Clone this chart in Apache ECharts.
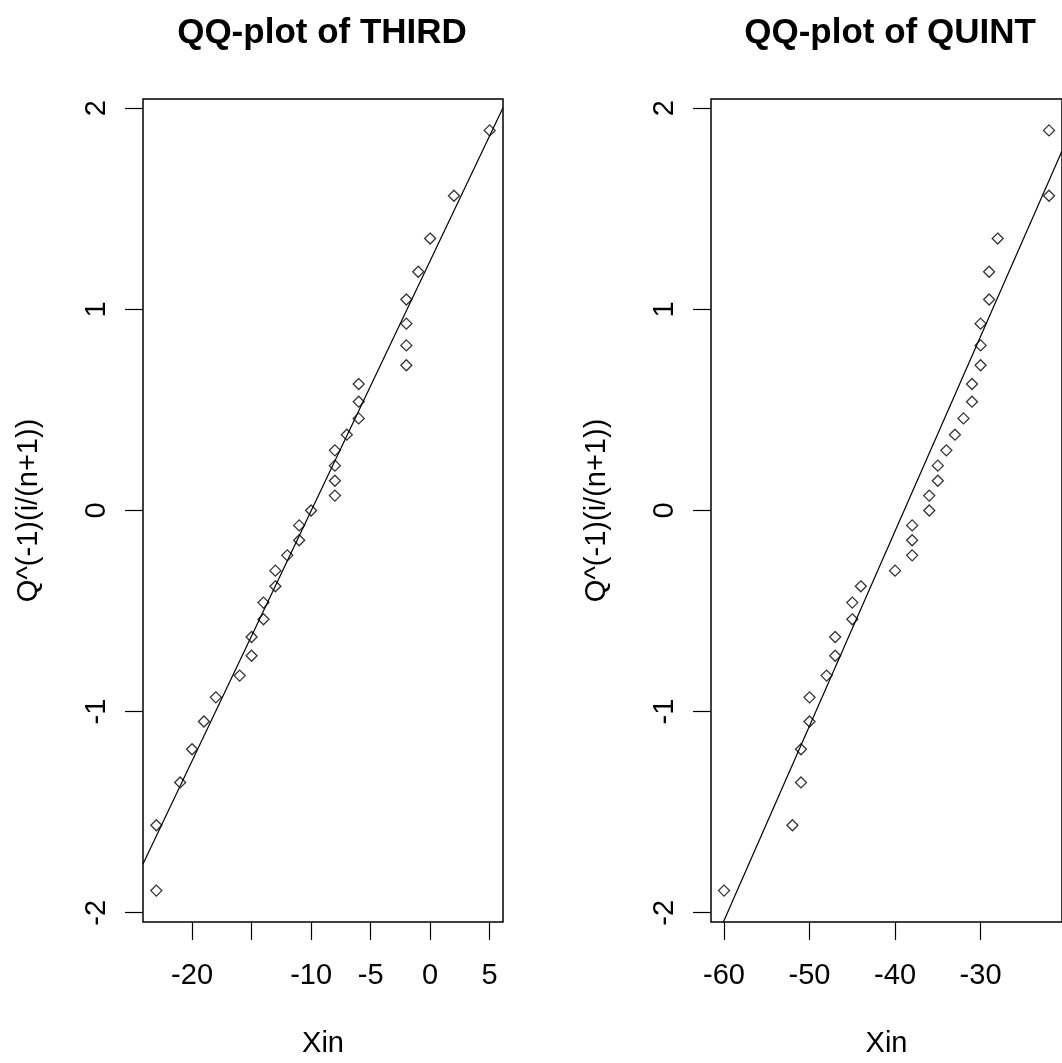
<!doctype html>
<html>
<head>
<meta charset="UTF-8">
<title>QQ-plot</title>
<script src="https://cdn.jsdelivr.net/npm/echarts@6/dist/echarts.min.js"></script>
<style>
    html, body { margin: 0; padding: 0; background: #fff; }
    #main { width: 1062px; height: 1063px; }
</style>
</head>
<body>
<div id="main"></div>
<script>
    // Q^(-1)(i/(n+1)) values, same for both panels (y axis)
    var normQ = [-1.890, -1.565, -1.352, -1.187, -1.049, -0.929, -0.821, -0.722, -0.629, -0.541, -0.458,
                 -0.377, -0.299, -0.223, -0.148, -0.074, 0, 0.074, 0.148, 0.223, 0.299, 0.377,
                 0.458, 0.541, 0.629, 0.722, 0.821, 0.929, 1.049, 1.187, 1.352, 1.565, 1.890];
    // sorted Xin of THIRD
    var thirdX = [-23, -23, -21, -20, -19, -18, -16, -15, -15, -14, -14,
                  -13, -13, -12, -11, -11, -10, -8, -8, -8, -8, -7,
                  -6, -6, -6, -2, -2, -2, -2, -1, 0, 2, 5];
    // sorted Xin of QUINT
    var quintX = [-60, -52, -51, -51, -50, -50, -48, -47, -47, -45, -45,
                  -44, -40, -38, -38, -38, -36, -36, -35, -35, -34, -33,
                  -32, -31, -31, -30, -30, -30, -29, -29, -28, -22, -22];
    // reference lines (two end points each)
    var thirdLineX = [-24.12, 6.12];
    var thirdLineY = [-1.758, 2.002];
    var quintLineX = [-61.52, -20.48];
    var quintLineY = [-2.186, 1.787];
    // ticks and labels
    var thirdTicks = [-20, -15, -10, -5, 0, 5];
    var thirdLabels = [-20, -10, -5, 0, 5];
    var quintTicks = [-60, -50, -40, -30];
    var yTicks = [-2, -1, 0, 1, 2];

    var FONT = 'Liberation Sans, Arial, sans-serif';

    function pairs(xs, ys) {
        var out = [];
        for (var i = 0; i < xs.length; i++) out.push([xs[i], ys[i]]);
        return out;
    }

    function xAxisOpt(idx, min, max, ticks, labels) {
        return {
            type: 'value', gridIndex: idx, min: min, max: max, position: 'bottom',
            name: 'Xin', nameLocation: 'middle', nameGap: 107,
            nameTextStyle: { fontFamily: FONT, fontSize: 29, color: '#000' },
            axisLine: { show: false, onZero: false },
            axisTick: { show: true, inside: false, length: 18, customValues: ticks,
                        lineStyle: { color: '#000', width: 1.2 } },
            axisLabel: { customValues: labels, margin: 39, fontFamily: FONT, fontSize: 29, color: '#000' },
            splitLine: { show: false }
        };
    }

    function yAxisOpt(idx) {
        return {
            type: 'value', gridIndex: idx, min: -2.046, max: 2.046, position: 'left',
            name: 'Q^(-1)(i/(n+1))', nameLocation: 'middle', nameGap: 100, nameRotate: 90,
            nameTextStyle: { fontFamily: FONT, fontSize: 29, color: '#000' },
            axisLine: { show: false, onZero: false },
            axisTick: { show: true, inside: false, length: 18, customValues: yTicks,
                        lineStyle: { color: '#000', width: 1.2 } },
            axisLabel: { customValues: yTicks, rotate: 90, margin: 32, fontFamily: FONT, fontSize: 29, color: '#000' },
            splitLine: { show: false }
        };
    }

    function pointSeries(idx, xs) {
        return {
            type: 'scatter', xAxisIndex: idx, yAxisIndex: idx,
            data: pairs(xs, normQ),
            symbol: 'diamond', symbolSize: [11, 11],
            itemStyle: { color: 'rgba(0,0,0,0)', borderColor: '#000', borderWidth: 1.3 }
        };
    }

    function lineSeries(idx, xs, ys) {
        return {
            type: 'line', xAxisIndex: idx, yAxisIndex: idx,
            data: pairs(xs, ys), clip: true,
            showSymbol: false, symbol: 'none',
            lineStyle: { color: '#000', width: 1.2 }
        };
    }

    var myChart = echarts.init(document.getElementById('main'));
    var option = {
        animation: false,
        backgroundColor: '#fff',
        title: [
            { text: 'QQ-plot of THIRD', left: 322, top: 16, padding: 0, textAlign: 'center',
              textStyle: { fontFamily: FONT, fontWeight: 'bold', fontSize: 35, color: '#000' } },
            { text: 'QQ-plot of QUINT', left: 890, top: 16, padding: 0, textAlign: 'center',
              textStyle: { fontFamily: FONT, fontWeight: 'bold', fontSize: 35, color: '#000' } }
        ],
        grid: [
            { left: 143, top: 99, width: 360, height: 825, show: true, borderColor: '#000', borderWidth: 1.5, backgroundColor: 'transparent' },
            { left: 711, top: 99, width: 360, height: 825, show: true, borderColor: '#000', borderWidth: 1.5, backgroundColor: 'transparent' }
        ],
        xAxis: [
            xAxisOpt(0, -24.12, 6.12, thirdTicks, thirdLabels),
            xAxisOpt(1, -61.52, -20.48, quintTicks, quintTicks)
        ],
        yAxis: [yAxisOpt(0), yAxisOpt(1)],
        series: [
            pointSeries(0, thirdX),
            lineSeries(0, thirdLineX, thirdLineY),
            pointSeries(1, quintX),
            lineSeries(1, quintLineX, quintLineY)
        ]
    };
    myChart.setOption(option);
</script>
</body>
</html>
